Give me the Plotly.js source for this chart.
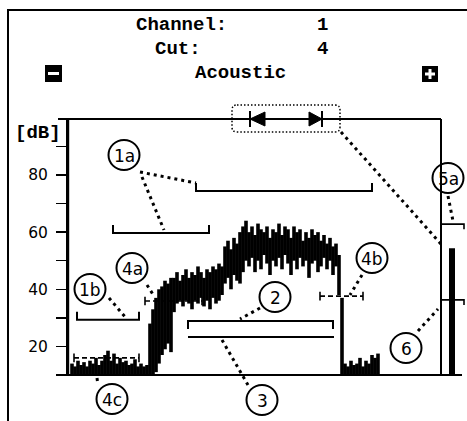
<!DOCTYPE html>
<html><head><meta charset="utf-8">
<script src="https://cdn.plot.ly/plotly-3.0.1.min.js"></script>
<style>html,body{margin:0;padding:0;background:#fff;}#chart{width:467px;height:421px;}</style>
</head><body><div id="chart"></div>
<script>
// ---- data ----
const tickVals = [10, 20, 30, 40, 50, 60, 70, 80, 90];
const tickText = ['', '20', '', '40', '', '60', '', '80', ''];
const sampleStart = 4, sampleStep = 3; // time units of the level samples
const hiDb = [
  14, 13, 15, 13.5, 14.5, 13, 15, 14, 16, 13.5, 15, 17, 18.5, 15, 17.5, 14, 16, 14.5, 15, 13.5, 14, 15.5, 13, 14, 13, 13.5,
  28, 33, 37, 40, 41, 43, 42, 44,
  44, 46, 43, 45, 47, 44, 46, 45, 48, 46, 44, 47, 46, 48, 47, 49, 48,
  55, 57, 54, 58, 56, 60, 62, 64, 60, 62, 59, 63, 61, 60, 62, 58, 61, 60, 63, 59,
  62, 61, 58, 62, 60, 61, 57, 60, 58, 61, 59, 60, 57, 59, 56, 58, 55, 56,
  52, 37,
  14, 13, 15, 13.5, 14, 16, 13, 15, 14, 17, 16, 17.5
];
const loDb = [
  10, 10, 10, 10, 10, 10, 10, 10, 10, 10, 10, 10, 10, 10, 10, 10, 10, 10, 10, 10, 10, 10, 10, 10, 10, 10,
  10, 10, 11, 14, 17, 19, 21, 18,
  32, 35, 36, 34, 36, 35, 33, 36, 35, 37, 34, 36, 33, 37, 35, 36, 38,
  42, 44, 40, 45, 43, 42, 46, 50, 48, 51, 46, 50, 47, 52, 49, 45, 50, 48, 51, 47,
  52, 49, 45, 50, 47, 51, 48, 50, 44, 49, 50, 46, 48, 51, 47, 50, 45, 48,
  38, 10,
  10, 10, 10, 10, 10, 10, 10, 10, 10, 10, 10, 10
];
// solid brackets: 1a (upper), 1a (lower), 1b, 2
const bracketStart = [128, 45, 9, 120];
const bracketEnd   = [304, 141, 71, 265];
const bracketLevel = [74.4, 59.7, 29.3, 28.9];
// dashed averages: 4c, 4a, 4b
const avgStart = [6, 77, 252];
const avgEnd   = [71, 134, 295];
const avgLevel = [16.0, 35.9, 37.6];
// line 3
const line3Start = 120, line3End = 266, line3Level = 23.3;
// level meter
const meterX = 384, meterLevel = 54.4;
const meterLineX = 373;
const meter5aLevel = 62.8, meter36Level = 36.3;
const meterMarkEnd = 396;
const yTop = 99.6;

// ---- build ----
const time = hiDb.map((_, i) => sampleStart + i * sampleStep);
const traces = [];
traces.push({type: 'bar', x: time, base: loDb, y: hiDb.map((h, i) => h - loDb[i]), width: sampleStep * 1.2,
  marker: {color: '#000', line: {width: 0}}, hoverinfo: 'skip'});
traces.push({type: 'bar', x: [meterX], y: [meterLevel], width: 6, marker: {color: '#000', line: {width: 0}}, hoverinfo: 'skip'});

const tickUp = 2.8, tickDown = [1, 1, 1, -1];
bracketStart.forEach((s, k) => {
  const e = bracketEnd[k], l = bracketLevel[k], d = tickUp * tickDown[k];
  traces.push({type: 'scatter', mode: 'lines', x: [s, s, e, e], y: [l + d, l, l, l + d],
    line: {color: '#000', width: 2}, hoverinfo: 'skip'});
});
avgStart.forEach((s, k) => {
  const e = avgEnd[k], l = avgLevel[k];
  traces.push({type: 'scatter', mode: 'lines', x: [s, e], y: [l, l], line: {color: '#000', width: 1.6, dash: '5px,3px'}, hoverinfo: 'skip'});
  traces.push({type: 'scatter', mode: 'lines', x: [s, s, null, e, e], y: [l - 1.5, l + 1.5, null, l - 1.5, l + 1.5], line: {color: '#000', width: 1.6}, hoverinfo: 'skip'});
});
traces.push({type: 'scatter', mode: 'lines', x: [line3Start, line3End], y: [line3Level, line3Level], line: {color: '#000', width: 2}, hoverinfo: 'skip'});
[meter5aLevel, meter36Level].forEach(l => {
  traces.push({type: 'scatter', mode: 'lines', x: [meterLineX, meterMarkEnd, meterMarkEnd], y: [l, l, l - 1.8],
    line: {color: '#000', width: 1.6}, hoverinfo: 'skip'});
});

// ---- decoration (pixel helpers -> paper) ----
const L = 68, T = 119, W = 398, H = 256;
const PX = v => (v - L) / W, PY = v => (T + H - v) / H;
const shapes = [];
const seg = (x0, y0, x1, y1, w, dash) => shapes.push({type: 'line', xref: 'paper', yref: 'paper',
  x0: PX(x0), y0: PY(y0), x1: PX(x1), y1: PY(y1), line: {color: '#000', width: w, dash: dash || 'solid'}});
// outer frame
seg(8, 10, 8, 421, 2); seg(7, 10, 467, 10, 2);
// axis frame: top line, bottom line, y-axis line
seg(58, 119, 441, 119, 2); seg(58, 375, 462, 375, 2);
shapes.push({type: 'rect', xref: 'paper', yref: 'paper', x0: PX(66.8), x1: PX(69.2), y0: PY(376), y1: PY(118), fillcolor: '#000', line: {width: 0}});
// meter vertical line
shapes.push({type: 'line', xref: 'x', yref: 'paper', x0: meterLineX, x1: meterLineX, y0: 0, y1: 1, line: {color: '#000', width: 2}});
// top window arrow
const path = pts => 'M' + pts.map(p => PX(p[0]) + ',' + PY(p[1])).join('L') + 'Z';
shapes.push({type: 'path', xref: 'paper', yref: 'paper', path: path([[250, 119], [265, 112], [265, 126]]), fillcolor: '#000', line: {color: '#000', width: 1}});
shapes.push({type: 'path', xref: 'paper', yref: 'paper', path: path([[322, 119], [309, 112], [309, 126]]), fillcolor: '#000', line: {color: '#000', width: 1}});
seg(250, 111, 250, 127, 2); seg(322, 111, 322, 127, 2);
// rounded dotted box
(function () {
  const x0 = 232, x1 = 340, y0 = 105, y1 = 132, r = 5;
  const P = (x, y) => PX(x) + ',' + PY(y);
  const d = 'M' + P(x0 + r, y0) + 'L' + P(x1 - r, y0) + 'Q' + P(x1, y0) + ' ' + P(x1, y0 + r) +
    'L' + P(x1, y1 - r) + 'Q' + P(x1, y1) + ' ' + P(x1 - r, y1) + 'L' + P(x0 + r, y1) +
    'Q' + P(x0, y1) + ' ' + P(x0, y1 - r) + 'L' + P(x0, y0 + r) + 'Q' + P(x0, y0) + ' ' + P(x0 + r, y0) + 'Z';
  shapes.push({type: 'path', xref: 'paper', yref: 'paper', path: d, line: {color: '#000', width: 1.5, dash: '1.5px,2px'}});
})();
// minus / plus buttons
const box = (x0, y0, x1, y1, c) => shapes.push({type: 'rect', xref: 'paper', yref: 'paper', x0: PX(x0), x1: PX(x1), y0: PY(y1), y1: PY(y0), fillcolor: c, line: {width: 0}});
box(45, 65, 62, 82, '#000'); box(48, 72, 59, 75, '#fff');
box(422, 66, 438, 82, '#000'); box(425, 72.5, 435, 75.5, '#fff'); box(428.5, 69, 431.5, 79, '#fff');
// leaders (dotted)
const dot = '3px,4px';
[[140, 172, 196, 183], [142, 177, 164, 230], [109, 298, 126, 318], [147, 285, 154, 296],
 [97, 378, 98, 385], [260, 308, 240, 319], [222, 340, 248, 385], [362, 275, 350, 295],
 [448, 196, 453, 221], [418, 331, 438, 309], [341, 132, 441, 244]].forEach(s => seg(s[0], s[1], s[2], s[3], 3, dot));
// callout circles
const callouts = [['1a', 124, 155], ['1b', 90, 289], ['4a', 132, 268], ['4c', 112, 399], ['2', 275, 297],
  ['3', 262, 400], ['4b', 372, 258], ['5a', 448, 178], ['6', 406, 348]];
const annotations = [];
callouts.forEach(c => {
  shapes.push({type: 'circle', xref: 'paper', yref: 'paper', x0: PX(c[1] - 15.5), x1: PX(c[1] + 15.5), y0: PY(c[2] + 15), y1: PY(c[2] - 15),
    fillcolor: 'rgba(255,255,255,0)', line: {color: '#000', width: 2}});
  annotations.push({xref: 'paper', yref: 'paper', x: PX(c[1]), y: PY(c[2] + 0.5), text: c[0], showarrow: false, xanchor: 'center', yanchor: 'middle',
    font: {family: 'DejaVu Sans, sans-serif', size: 17, color: '#000'}});
});
const mono = {family: 'Liberation Mono, Courier New, monospace', size: 19, color: '#000', weight: 'bold'};
[['Channel:', 181, 25], ['1', 322, 25], ['Cut:', 178, 49], ['4', 322, 49], ['Acoustic', 240, 73], ['[dB]', 38, 133]].forEach(t => {
  annotations.push({xref: 'paper', yref: 'paper', x: PX(t[1]), y: PY(t[2]), text: t[0], showarrow: false, xanchor: 'center', yanchor: 'middle', font: mono});
});

const layout = {
  width: 467, height: 421, margin: {l: L, r: 467 - L - W, t: T, b: 421 - T - H},
  paper_bgcolor: '#fff', plot_bgcolor: '#fff', showlegend: false, barmode: 'overlay',
  xaxis: {range: [0, W], showline: false, showgrid: false, zeroline: false, showticklabels: false, ticks: '', fixedrange: true},
  yaxis: {range: [10, yTop], showline: true, linecolor: '#000', linewidth: 2, showgrid: false, zeroline: false,
    tickmode: 'array', tickvals: tickVals, ticktext: tickText, ticks: 'outside', ticklen: 10, tickwidth: 1.5, tickcolor: '#000',
    ticklabelstandoff: 5, tickfont: {family: 'DejaVu Sans, sans-serif', size: 15.5, color: '#000'}, fixedrange: true},
  shapes: shapes, annotations: annotations
};
Plotly.newPlot('chart', traces, layout, {displayModeBar: false, staticPlot: true});
</script></body></html>
